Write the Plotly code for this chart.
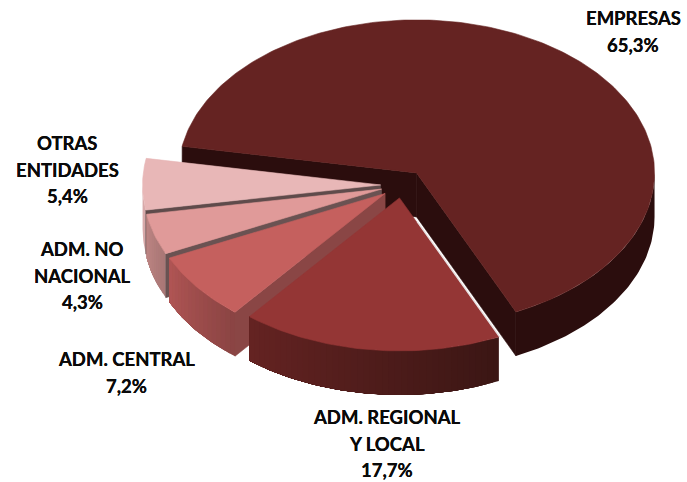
import math
import plotly.graph_objects as go

# ---- data ----
categories = ["EMPRESAS", "ADM. REGIONAL Y LOCAL", "ADM. CENTRAL", "ADM. NO NACIONAL", "OTRAS ENTIDADES"]
values = [65.3, 17.7, 7.2, 4.3, 5.4]
value_labels = ["65,3%", "17,7%", "7,2%", "4,3%", "5,4%"]
label_lines = [["EMPRESAS"], ["ADM. REGIONAL", "Y LOCAL"], ["ADM. CENTRAL"], ["ADM. NO", "NACIONAL"], ["OTRAS", "ENTIDADES"]]

# ---- styling ----
top_colors = ["#652322", "#943635", "#c5605e", "#e09a99", "#e8b7b7"]
cut_colors = ["#2b0d0d", "#3a1614", "#8a4645", "#6a5252", "#5f4b4b"]
wall_right = ["#2b0d0d", "#3a1614", "#8a4443", "#a87675", "#d8aaaa"]
wall_left = ["#2b0d0d", "#652322", "#b05554", "#bd8583", "#d8aaaa"]
label_x = [633, 387, 126, 82, 67]
label_y = [18, 417, 359, 249, 143]
LINE_GAP = 26.5
FONT = "Lato"
FONT_SIZE = 18.5

# ---- 3D pie projection ----
BX, BY, RX, RY, DEPTH = 402, 185, 238, 153, 44
START = -80
PULL = [0.10, 0.085, 0.09, 0.09, 0.09]
DRAW_ORDER = [0, 4, 3, 2, 1]

total = sum(values)
edges = [START]
for v in values:
    edges.append(edges[-1] + v / total * 360)


def on_rim(cx, cy, deg, dz=0):
    t = math.radians(deg)
    return cx + RX * math.sin(t), cy - RY * math.cos(t) + dz


def arc(cx, cy, a, b, dz=0, step=1.0):
    n = max(2, int(abs(b - a) / step))
    return [on_rim(cx, cy, a + (b - a) * i / n, dz) for i in range(n + 1)]


def mix(c1, c2, f):
    p = [int(c1[i:i + 2], 16) for i in (1, 3, 5)]
    q = [int(c2[i:i + 2], 16) for i in (1, 3, 5)]
    return "#%02x%02x%02x" % tuple(round(p[i] + (q[i] - p[i]) * f) for i in range(3))


fig = go.Figure()


def poly(pts, color, edge=0.6):
    fig.add_trace(go.Scatter(x=[p[0] for p in pts] + [pts[0][0]], y=[p[1] for p in pts] + [pts[0][1]],
                             mode="lines", fill="toself", fillcolor=color,
                             line=dict(color=color, width=edge), hoverinfo="skip", showlegend=False))


def cut_face(cx, cy, deg, color):
    rim = on_rim(cx, cy, deg)
    poly([(cx, cy), rim, (rim[0], rim[1] + DEPTH), (cx, cy + DEPTH)], color)


for i in DRAW_ORDER:
    a, b = edges[i], edges[i + 1]
    mid = math.radians((a + b) / 2)
    cx = BX + PULL[i] * RX * math.sin(mid)
    cy = BY - PULL[i] * RY * math.cos(mid)

    # outer wall, only the part turned towards the viewer
    lo, hi = max(a, 90), min(b, 270)
    if hi > lo:
        n = 1 if wall_left[i] == wall_right[i] else max(1, int((hi - lo) / 1.5))
        for k in range(n):
            # each strip runs on to the far end so the next one overlaps it: no seams
            s = lo + (hi - lo) * k / n
            col = mix(wall_right[i], wall_left[i], (k + 0.5) / n)
            poly(arc(cx, cy, s, hi) + arc(cx, cy, hi, s, DEPTH), col, edge=0)

    # flat cut faces that look to the viewer
    if i == 0:
        cut_face(cx, cy, a, cut_colors[i])
        cut_face(cx, cy, b, cut_colors[i])
    elif i in (2, 3, 4):
        cut_face(cx, cy, a, cut_colors[i])

    # top face
    poly([(cx, cy)] + arc(cx, cy, a, b), top_colors[i])

    # thin light seam along the right edge of the regional slice
    if i == 1:
        rim = on_rim(cx, cy, a)
        f = 0.17
        fig.add_trace(go.Scatter(x=[cx + (rim[0] - cx) * f + 0.8, rim[0] + 0.8],
                                 y=[cy + (rim[1] - cy) * f, rim[1]],
                                 mode="lines", line=dict(color="#e4dcdc", width=1.2),
                                 hoverinfo="skip", showlegend=False))

annotations = []
for i in range(len(categories)):
    lines = label_lines[i] + [value_labels[i]]
    for j, text in enumerate(lines):
        annotations.append(dict(x=label_x[i], y=label_y[i] + j * LINE_GAP, text="<b>%s</b>" % text,
                                showarrow=False, xanchor="center", yanchor="middle",
                                font=dict(family=FONT, size=FONT_SIZE, color="#0a0a0a",
                                          shadow="0 0 0.6px #0a0a0a")))

fig.update_layout(width=687, height=482, margin=dict(l=0, r=0, t=0, b=0),
                  paper_bgcolor="white", plot_bgcolor="white", showlegend=False,
                  xaxis=dict(range=[0, 687], visible=False, fixedrange=True),
                  yaxis=dict(range=[482, 0], visible=False, fixedrange=True),
                  annotations=annotations)
fig.write_html("out.html", post_script="document.body.style.margin='0';",
               config=dict(displayModeBar=False))
